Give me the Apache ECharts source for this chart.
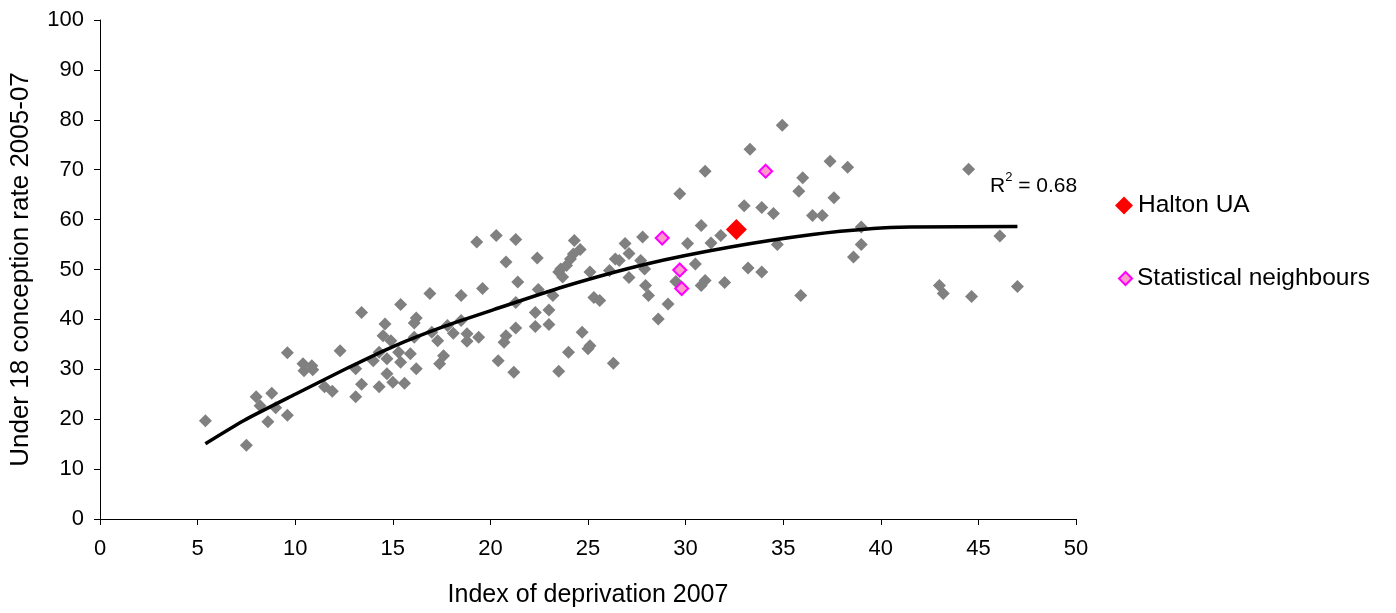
<!DOCTYPE html>
<html>
<head>
<meta charset="utf-8">
<script src="https://cdn.jsdelivr.net/npm/echarts@6/dist/echarts.min.js"></script>
<style>
html,body{margin:0;padding:0;background:#fff;}
#chart{width:1396px;height:613px;}
</style>
</head>
<body>
<div id="chart"></div>
<script>
// Other local authorities: [index of deprivation 2007, under-18 conception rate 2005-07]
const otherAuthorities = [
  [5.4,19.7],[7.5,14.8],[8.0,24.5],[8.2,22.7],[8.8,25.2],[8.6,19.5],[9.0,22.3],[9.6,20.8],
  [9.6,33.3],[10.4,31.1],[10.45,29.7],[10.85,30.7],[10.9,29.9],[11.5,26.5],[11.9,25.6],[12.3,33.7],
  [14.0,31.7],[14.3,33.4],[14.7,32.1],[15.3,33.4],[15.4,31.4],[15.9,33.1],[14.7,29.1],
  [13.1,30.1],[16.2,30.1],[13.4,27.0],[14.3,26.5],[15.0,27.4],[15.6,27.2],[13.1,24.5],
  [13.4,41.4],[15.4,43.0],[16.9,45.2],[18.5,44.8],[16.2,40.3],[16.1,39.3],[14.6,39.1],
  [14.5,36.7],[14.9,35.7],[16.1,36.4],[17.0,37.4],[17.3,35.7],[17.8,38.8],[18.5,39.8],
  [18.1,37.2],[18.8,37.1],[18.8,35.6],[19.4,36.4],[17.6,32.7],[17.4,31.1],[19.6,46.2],
  [19.3,55.5],[20.3,56.8],[21.3,56.0],[20.8,51.5],[22.4,52.3],[21.4,47.5],[22.45,46.0],
  [23.2,44.8],[21.3,43.4],[20.4,31.7],[21.2,29.4],[20.7,35.4],[20.8,36.7],[21.3,38.3],
  [22.3,41.4],[23.0,41.9],[22.3,38.6],[23.0,39.0],[24.0,33.4],[24.7,37.4],[25.1,34.7],
  [25.0,34.1],[23.5,29.6],[26.3,31.2],[28.6,40.1],[25.3,44.4],[25.6,43.8],[29.1,43.1],
  [24.3,55.8],[24.6,54.0],[24.25,53.1],[24.1,52.1],[23.9,50.8],[23.6,50.1],[23.5,49.5],
  [23.7,48.5],[25.1,49.5],[26.1,49.8],[26.4,52.1],[26.6,51.8],[26.9,55.2],[27.1,53.2],
  [27.8,56.5],[27.7,51.8],[27.9,50.1],[27.1,48.4],[27.95,46.8],[28.1,44.8],
  [34.95,78.9],[33.3,74.1],[31.0,69.7],[37.4,71.7],[38.3,70.5],[29.7,65.2],[36.0,68.4],
  [35.8,65.7],[37.6,64.4],[33.0,62.8],[33.9,62.4],[34.5,61.2],[36.5,60.8],[37.0,60.8],
  [30.8,58.8],[31.8,56.8],[31.3,55.3],[30.1,55.2],[29.5,47.6],[30.5,51.1],[31.0,47.8],
  [30.8,46.8],[32.0,47.4],[33.2,50.3],[33.9,49.5],[34.7,55.0],[38.6,52.5],[35.9,44.8],
  [39.0,58.5],[39.0,55.0],
  [44.5,70.1],[46.1,56.7],[43.0,46.8],[43.2,45.2],[44.65,44.6],[47.0,46.6]
];
const statisticalNeighbours = [[28.8,56.3],[34.1,69.7],[29.7,49.9],[29.8,46.2]];
const haltonUA = [[32.6,58.0]];

// Polynomial trendline as drawn in the reference
const trendX = [5.4,7.4,10.0,12.55,15.1,17.7,20.2,23.7,28.0,32.3,36.5,39.6,41.5,47.0];
const trendY = [15.1,19.8,25.0,30.0,34.7,38.7,42.0,46.5,51.1,54.5,57.0,58.2,58.5,58.6];
const rSquared = '0.68';

const xTicks = {min:0, max:50, interval:5};
const yTicks = {min:0, max:100, interval:10};

const FONT = "'Liberation Sans', Arial, sans-serif";
const chart = echarts.init(document.getElementById('chart'), null, {renderer:'canvas'});

const trendData = trendX.map((x,i)=>[x,trendY[i]]);

chart.setOption({
  animation:false,
  backgroundColor:'#fff',
  textStyle:{fontFamily:FONT},
  grid:{left:100, right:320, top:20, bottom:94, containLabel:false, outerBoundsMode:'none'},
  title:{
    left:985, top:166,
    text:'{a|R}{s|2}{a| = ' + rSquared + '}',
    textStyle:{
      fontWeight:'normal',
      rich:{
        a:{fontSize:21, fontFamily:FONT, fontWeight:'normal', color:'#000', verticalAlign:'bottom', lineHeight:26},
        s:{fontSize:13, fontFamily:FONT, fontWeight:'normal', color:'#000', verticalAlign:'top', lineHeight:26, padding:[0,0,10,0]}
      }
    }
  },
  legend:[
    {
      data:['Halton UA'], left:1110, top:188, icon:'diamond',
      itemWidth:18, itemHeight:18, itemGap:0,
      textStyle:{fontSize:24.5, fontFamily:FONT, color:'#000'}
    },
    {
      data:['Statistical neighbours'], left:1113, top:261, icon:'diamond',
      itemWidth:13, itemHeight:13, itemGap:0,
      textStyle:{fontSize:24.5, fontFamily:FONT, color:'#000'}
    }
  ],
  xAxis:{
    type:'value', min:xTicks.min, max:xTicks.max, interval:xTicks.interval,
    name:'Index of deprivation 2007', nameLocation:'middle', nameGap:64,
    nameTextStyle:{fontSize:25, fontFamily:FONT, color:'#000'},
    axisLine:{show:true, onZero:false, lineStyle:{color:'#000', width:1}},
    axisTick:{show:true, length:6, lineStyle:{color:'#000'}},
    axisLabel:{fontSize:22, fontFamily:FONT, color:'#000', margin:19},
    splitLine:{show:false}
  },
  yAxis:{
    type:'value', min:yTicks.min, max:yTicks.max, interval:yTicks.interval,
    name:'Under 18 conception rate 2005-07', nameLocation:'middle', nameGap:66,
    nameTextStyle:{fontSize:26, fontFamily:FONT, color:'#000'},
    axisLine:{show:true, onZero:false, lineStyle:{color:'#000', width:1}},
    axisTick:{show:true, length:6, lineStyle:{color:'#000'}},
    axisLabel:{fontSize:22, fontFamily:FONT, color:'#000', margin:16},
    splitLine:{show:false}
  },
  series:[
    {
      name:'Other', type:'scatter', data:otherAuthorities, symbol:'diamond', symbolSize:13,
      itemStyle:{color:'#808080', opacity:1}, z:2
    },
    {
      name:'trend', type:'line', data:trendData, showSymbol:false, smooth:0.2,
      lineStyle:{color:'#000', width:3.5}, itemStyle:{color:'#000'}, z:3, silent:true
    },
    {
      name:'Statistical neighbours', type:'scatter', data:statisticalNeighbours, symbol:'diamond', symbolSize:13,
      itemStyle:{color:'#FF99CC', borderColor:'#FF00FF', borderWidth:2, opacity:1}, z:4
    },
    {
      name:'Halton UA', type:'scatter', data:haltonUA, symbol:'diamond', symbolSize:21,
      itemStyle:{color:'#FF0000', opacity:1}, z:5
    }
  ]
});
</script>
</body>
</html>
